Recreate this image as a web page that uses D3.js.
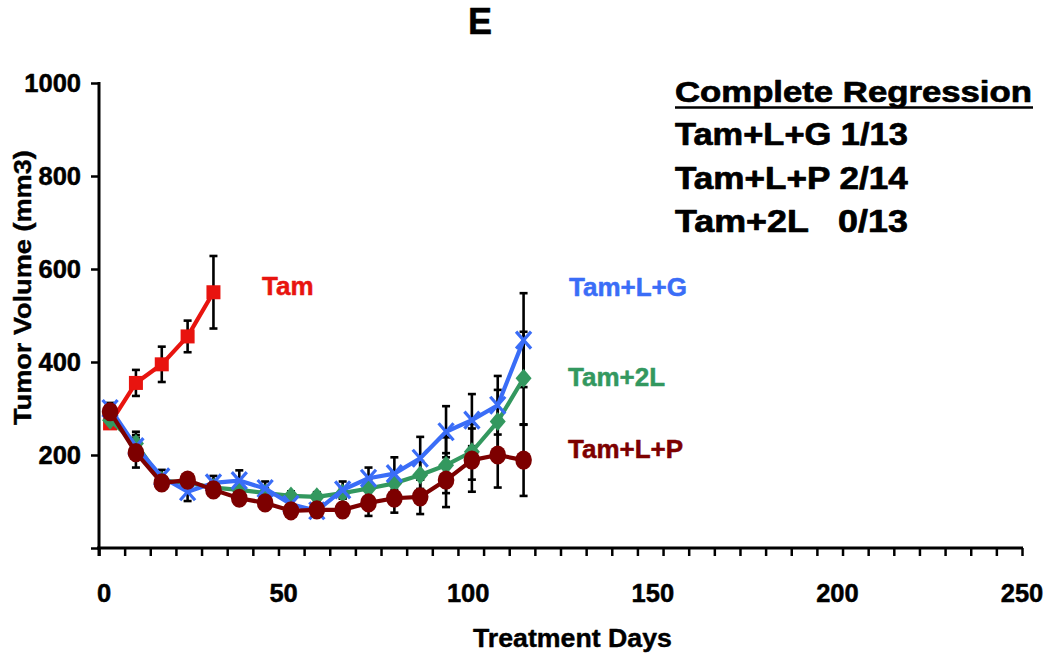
<!DOCTYPE html>
<html>
<head>
<meta charset="utf-8">
<script src="https://cdn.jsdelivr.net/npm/d3@7"></script>
<style>
  html, body { margin: 0; padding: 0; background: #fff; }
  svg { display: block; font-family: "Liberation Sans", Arial, sans-serif; font-weight: bold; }
</style>
</head>
<body>
<svg id="chart" width="1050" height="662"></svg>
<script>
// ---- Data ----
const days = [3, 10, 17, 24, 31, 38, 45, 52, 59, 66, 73, 80, 87, 94, 101, 108, 115];
const tamDays = [3, 10, 17, 24, 31];
const tamValues = [268, 355, 395, 455, 550];
const tamErr = [10, 28, 38, 34, 78];
const tamLGValues = [300, 218, 153, 121, 140, 145, 128, 94, 80, 125, 150, 160, 193, 250, 275, 307, 447];
const tamLGErr = [12, 25, 15, 20, 15, 22, 15, 12, 10, 18, 23, 35, 46, 55, 56, 63, 101];
const tam2LValues = [275, 225, 145, 140, 130, 125, 118, 112, 110, 118, 128, 139, 157, 178, 207, 272, 365];
const tam2LErr = [10, 25, 12, 12, 12, 12, 10, 10, 10, 12, 20, 25, 30, 60, 60, 68, 100];
const tamLPValues = [293, 205, 140, 146, 125, 107, 97, 80, 82, 82, 97, 107, 110, 146, 189, 200, 189];
const tamLPErr = [12, 32, 15, 12, 15, 12, 12, 12, 12, 15, 28, 31, 37, 58, 68, 70, 77];
const xTickLabels = [0, 50, 100, 150, 200, 250];
const yTickLabels = [200, 400, 600, 800, 1000];
const seriesNames = ["Tam", "Tam+L+G", "Tam+2L", "Tam+L+P"];
const regressionLines = ["Tam+L+G 1/13", "Tam+L+P 2/14", "Tam+2L   0/13"];

// ---- Layout ----
const svg = d3.select("#chart");
const x = d3.scaleLinear().domain([0, 250]).range([99, 1022]);
const y = d3.scaleLinear().domain([0, 1000]).range([548, 83]);
const colors = { red: "#e8140f", blue: "#3a6df7", green: "#33985f", maroon: "#7d0000" };

// horizontally fit a text element to a target width via scale transform
function fitWidth(sel, x0, y0, w) {
  sel.attr("x", 0).attr("y", 0);
  const nat = sel.node().getComputedTextLength();
  sel.attr("transform", `translate(${x0},${y0}) scale(${w / nat},1)`);
}
// thicken glyphs slightly (reference text is heavy)
function heavy(sel, color, w) {
  return sel.attr("stroke", color).attr("stroke-width", w).attr("stroke-linejoin", "round");
}

// ---- Axes ----
const xAxis = d3.axisBottom(x)
  .tickValues(d3.range(0, 37).map(i => i * 250 / 36))
  .tickSize(8).tickSizeOuter(0).tickFormat("");
svg.append("g").attr("transform", "translate(0,548)").call(xAxis)
  .call(g => g.select(".domain").attr("stroke-width", 3).attr("d", "M97,0H1023"))
  .call(g => g.selectAll(".tick line").attr("stroke-width", 2.5));

const yAxis = d3.axisLeft(y).tickValues([0, ...yTickLabels]).tickSize(8).tickSizeOuter(0).tickFormat("");
svg.append("g").attr("transform", "translate(99,0)").call(yAxis)
  .call(g => g.select(".domain").attr("stroke-width", 3).attr("d", "M0,82V556"))
  .call(g => g.selectAll(".tick line").attr("stroke-width", 2.5));

// tick labels
heavy(svg.append("g").selectAll("text").data(xTickLabels).join("text")
  .attr("x", d => x(d) + (d === 0 ? 5 : 0)).attr("y", 602)
  .attr("text-anchor", "middle").attr("font-size", 25.5).text(d => d), "#000", 0.5);
heavy(svg.append("g").selectAll("text").data(yTickLabels).join("text")
  .attr("x", 81).attr("y", d => y(d) + 9)
  .attr("text-anchor", "end").attr("font-size", 25.5).text(d => d), "#000", 0.5);

// axis titles
const yt = svg.append("g").attr("transform", "translate(31,425) rotate(-90)")
  .append("text").attr("font-size", 24).text("Tumor Volume (mm3)");
fitWidth(yt, 0, 0, 275);
heavy(yt, "#000", 0.4);
const xt = svg.append("text").attr("font-size", 25).text("Treatment Days");
fitWidth(xt, 473, 647, 199);
heavy(xt, "#000", 0.4);

// title
heavy(svg.append("text").attr("x", 480).attr("y", 34).attr("text-anchor", "middle")
  .attr("font-size", 36).text("E"), "#000", 0.5);

// ---- Series ----
const series = [
  { name: seriesNames[0], xs: tamDays, vals: tamValues, err: tamErr, color: colors.red, marker: "square" },
  { name: seriesNames[2], xs: days, vals: tam2LValues, err: tam2LErr, color: colors.green, marker: "diamond" },
  { name: seriesNames[1], xs: days, vals: tamLGValues, err: tamLGErr, color: colors.blue, marker: "x" },
  { name: seriesNames[3], xs: days, vals: tamLPValues, err: tamLPErr, color: colors.maroon, marker: "circle" }
];

// error bars (behind)
const eb = svg.append("g").attr("stroke", "#000").attr("stroke-width", 2.6).attr("fill", "none");
series.forEach(s => {
  s.xs.forEach((dx, i) => {
    const cx = x(dx), top = y(s.vals[i] + s.err[i]), bot = y(s.vals[i] - s.err[i]);
    eb.append("line").attr("x1", cx).attr("x2", cx).attr("y1", top).attr("y2", bot);
    eb.append("line").attr("x1", cx - 4).attr("x2", cx + 4).attr("y1", top).attr("y2", top);
    eb.append("line").attr("x1", cx - 4).attr("x2", cx + 4).attr("y1", bot).attr("y2", bot);
  });
});

const line = d3.line().x(d => x(d[0])).y(d => y(d[1]));
series.forEach(s => {
  const pts = s.xs.map((dx, i) => [dx, s.vals[i]]);
  const g = svg.append("g");
  g.append("path").attr("d", line(pts)).attr("fill", "none")
    .attr("stroke", s.color).attr("stroke-width", 4.2).attr("stroke-linejoin", "round");
  const m = g.selectAll("g.m").data(pts).join("g")
    .attr("transform", d => `translate(${x(d[0])},${y(d[1])})`);
  if (s.marker === "square") {
    m.append("rect").attr("x", -7).attr("y", -7).attr("width", 14).attr("height", 14).attr("fill", s.color);
  } else if (s.marker === "diamond") {
    m.append("path").attr("d", "M0,-9.5L8,0L0,9.5L-8,0Z").attr("fill", s.color);
  } else if (s.marker === "x") {
    m.append("path").attr("d", "M-7.5,-8.5L7.5,8.5M-7.5,8.5L7.5,-8.5").attr("stroke", s.color).attr("stroke-width", 3.2);
  } else {
    m.append("ellipse").attr("rx", 8.3).attr("ry", 9.6).attr("fill", s.color);
  }
});

// series labels
const labels = [
  { t: seriesNames[0], x: 262, y: 295, c: colors.red },
  { t: seriesNames[1], x: 569, y: 296, c: colors.blue },
  { t: seriesNames[2], x: 568, y: 386, c: colors.green },
  { t: seriesNames[3], x: 568, y: 458, c: colors.maroon }
];
svg.append("g").selectAll("text").data(labels).join("text")
  .attr("x", d => d.x).attr("y", d => d.y).attr("font-size", 26)
  .attr("fill", d => d.c).attr("stroke", d => d.c).attr("stroke-width", 0.5)
  .attr("stroke-linejoin", "round").text(d => d.t);

// Complete Regression block
const cr = svg.append("text").attr("font-size", 29).text("Complete Regression");
fitWidth(cr, 675, 102, 357);
heavy(cr, "#000", 0.7);
svg.append("line").attr("x1", 675).attr("x2", 1033).attr("y1", 107.5).attr("y2", 107.5)
  .attr("stroke", "#000").attr("stroke-width", 2.5);
const rg = svg.append("g");
regressionLines.forEach((t, i) => {
  const el = rg.append("text").attr("font-size", 30.5).style("white-space", "pre").text(t);
  fitWidth(el, 675, 145 + i * 43.5, 233);
  heavy(el, "#000", 0.7);
});
</script>
</body>
</html>
